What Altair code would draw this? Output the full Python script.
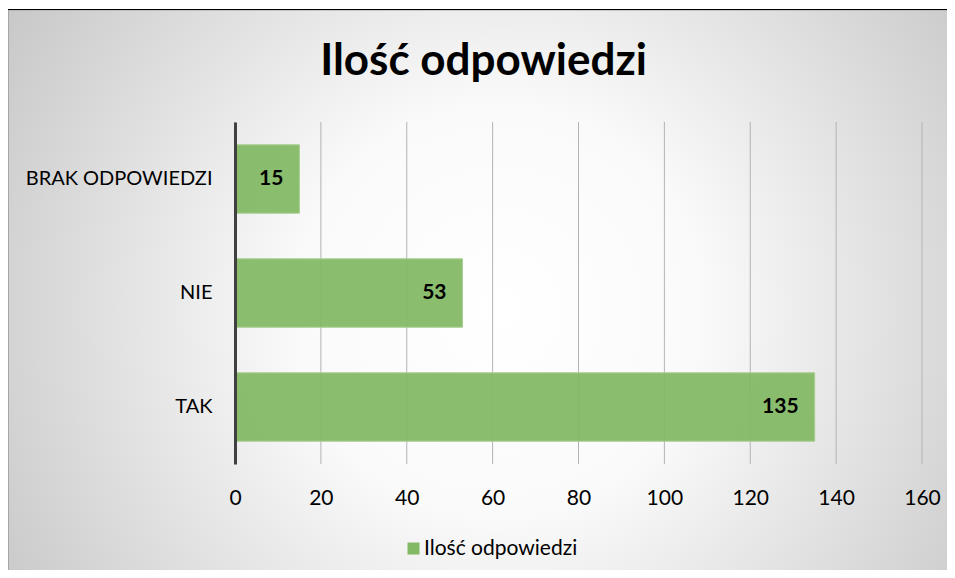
import altair as alt
import pandas as pd

# ---- data ----
categories = ["BRAK ODPOWIEDZI", "NIE", "TAK"]
values = [15, 53, 135]
series_name = "Ilość odpowiedzi"
tick_values = [0, 20, 40, 60, 80, 100, 120, 140, 160]
title_text = "Ilość odpowiedzi"

# ---- layout ----
W, H = 687, 342
PAD_L, PAD_T, PAD_R, PAD_B = 227, 114, 25, 106
TOTAL_W = W + PAD_L + PAD_R
TOTAL_H = H + PAD_T + PAD_B
FONT = "Lato"
FS = 21

df = pd.DataFrame({"kategoria": categories, "wartosc": values,
                   "seria": [series_name] * len(categories)})
ticks_df = pd.DataFrame({"t": tick_values})

x_scale = alt.Scale(domain=[0, 160], nice=False, zero=True)
x_axis = alt.Axis(values=tick_values, title=None, domain=False, ticks=False,
                  grid=False, labelPadding=23, labelFont=FONT, labelFontSize=FS,
                  labelFlush=False, labelOverlap=False,
                  labelColor="#000000", zindex=1)
y_enc = alt.Y("kategoria:N", sort=categories,
              scale=alt.Scale(paddingInner=0.4, paddingOuter=0.2),
              axis=alt.Axis(title=None, domain=True, domainColor="#404040",
                            domainWidth=3, ticks=False, labelPadding=23,
                            labelLimit=0, labelFont=FONT, labelFontSize=20,
                            labelColor="#000000", grid=False, zindex=1))

gradient = {
    "gradient": "radial",
    "x1": 0.52, "y1": 0.52, "r1": 0,
    "x2": 0.52, "y2": 0.52, "r2": 0.72,
    "stops": [
        {"offset": 0.0, "color": "#ffffff"},
        {"offset": 0.3, "color": "#fafafa"},
        {"offset": 1.0, "color": "#bababa"},
    ],
}

one = alt.Data(values=[{}])

bg = alt.Chart(one).mark_rect(fill=gradient, stroke="#a6a6a6", strokeWidth=1).encode(
    x=alt.value(-PAD_L + 0.5), x2=alt.value(TOTAL_W - PAD_L + 5),
    y=alt.value(-PAD_T + 2), y2=alt.value(TOTAL_H - PAD_T + 5))

topline = alt.Chart(one).mark_rule(color="#000000", strokeWidth=1).encode(
    x=alt.value(-PAD_L), x2=alt.value(TOTAL_W - PAD_L), y=alt.value(-PAD_T + 1.5))

grid = alt.Chart(ticks_df).mark_rule(color="#b3b3b3", strokeWidth=1).encode(
    x=alt.X("t:Q", scale=x_scale, axis=x_axis))

bars = alt.Chart(df).mark_bar(opacity=0.93, stroke="#a3cd89", strokeWidth=1).encode(
    x=alt.X("wartosc:Q", scale=x_scale, axis=x_axis),
    y=y_enc,
    color=alt.Color("seria:N", scale=alt.Scale(range=["#83b964"]),
                    legend=alt.Legend(title=None, orient="none", legendX=168,
                                      legendY=416, symbolType="square",
                                      symbolSize=144, labelFont=FONT,
                                      labelFontSize=FS, labelColor="#000000",
                                      labelOffset=0, symbolStrokeWidth=0,
                                      symbolOpacity=1, padding=0, zindex=1)))

labels = alt.Chart(df).mark_text(align="right", baseline="middle", dx=-16,
                                 font=FONT, fontSize=FS, fontWeight="bold",
                                 color="#000000").encode(
    x=alt.X("wartosc:Q", scale=x_scale, axis=x_axis),
    y=y_enc,
    text="wartosc:Q")

title = alt.Chart(one).mark_text(text=title_text, font=FONT, fontSize=44,
                                 fontWeight="bold", align="center",
                                 baseline="alphabetic", color="#000000").encode(
    x=alt.value(475.5 - PAD_L), y=alt.value(67 - PAD_T))

chart = alt.layer(bg, topline, grid, bars, labels, title).properties(
    width=W, height=H,
    autosize=alt.AutoSizeParams(type="none"),
    padding={"left": PAD_L, "top": PAD_T, "right": PAD_R, "bottom": PAD_B},
).configure_view(stroke=None).configure(background="white")

chart.save("out.html", embed_options={"renderer": "svg", "actions": False})
